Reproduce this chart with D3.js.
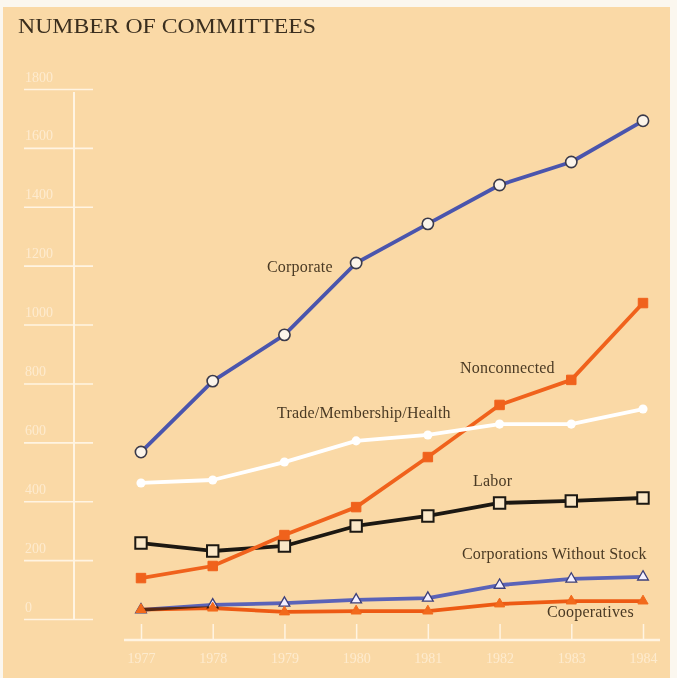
<!DOCTYPE html>
<html>
<head>
<meta charset="utf-8">
<script src="https://cdn.jsdelivr.net/npm/d3@7"></script>
<style>
  html, body { margin: 0; padding: 0; background: #fbf7ef; }
  svg { display: block; }
</style>
</head>
<body>
<svg id="chart" width="677" height="678"></svg>
<script>
// Years on the x axis
const years = [1977, 1978, 1979, 1980, 1981, 1982, 1983, 1984];

// Number of political action committees by type
const corporate      = [567, 808, 965, 1209, 1342, 1474, 1552, 1692];
const nonconnected   = [139, 180, 285, 380, 550, 727, 812, 1073];
const tradeMembHlth  = [462, 472, 533, 605, 625, 662, 662, 713];
const labor          = [258, 231, 248, 316, 350, 394, 401, 411];
const corpsNoStock   = [31, 48, 54, 65, 71, 115, 136, 143];
const cooperatives   = [32, 37, 24, 27, 27, 51, 61, 61];

// Y-axis tick values
const yTicks = [0, 200, 400, 600, 800, 1000, 1200, 1400, 1600, 1800];

const svg = d3.select("#chart");

// Page background
svg.append("rect")
  .attr("x", 3).attr("y", 7).attr("width", 667).attr("height", 671)
  .attr("fill", "#fad9a6");

const x = d3.scalePoint().domain(years).range([141, 643]);
const y = d3.scaleLinear().domain([0, 1800]).range([619, 89]);

// Title
svg.append("text")
  .attr("x", 18).attr("y", 33)
  .attr("font-family", "'Liberation Serif', 'DejaVu Serif', serif")
  .attr("font-size", 20)
  .attr("fill", "#3a2e1e")
  .attr("textLength", 298)
  .attr("lengthAdjust", "spacingAndGlyphs")
  .text("NUMBER OF COMMITTEES");

// Y axis: vertical rule, short horizontal tick rules with labels above them
const axisColor = "#fff4e2";
svg.append("line")
  .attr("x1", 74).attr("x2", 74)
  .attr("y1", y(1800) + 3).attr("y2", y(0))
  .attr("stroke", axisColor).attr("stroke-width", 2);

const yG = svg.append("g").attr("transform", "translate(24,0)");
yG.call(d3.axisRight(y).tickValues(yTicks).tickSize(69).tickFormat(d3.format("d")))
  .call(g => g.select(".domain").remove())
  .call(g => g.selectAll(".tick line").attr("stroke", axisColor).attr("stroke-width", 1.6))
  .call(g => g.selectAll(".tick text")
      .attr("x", 1).attr("dy", -8)
      .attr("text-anchor", "start")
      .attr("font-family", "'Liberation Serif', serif")
      .attr("font-size", 14)
      .attr("fill", "#fff1dc")
      .attr("opacity", 0.75));

// X axis: horizontal rule with upward ticks and year labels below
const xG = svg.append("g").attr("transform", "translate(0,640)");
xG.call(d3.axisTop(x).tickSize(16).tickFormat(d3.format("d")))
  .call(g => g.select(".domain").remove())
  .call(g => g.selectAll(".tick line").attr("stroke", axisColor).attr("stroke-width", 1.5))
  .call(g => g.selectAll(".tick text")
      .attr("y", 23).attr("dy", 0)
      .attr("font-family", "'Liberation Serif', serif")
      .attr("font-size", 14)
      .attr("fill", "#fff1dc")
      .attr("opacity", 0.75));
svg.append("line")
  .attr("x1", 124).attr("x2", 660)
  .attr("y1", 640).attr("y2", 640)
  .attr("stroke", axisColor).attr("stroke-width", 2.5);

const line = d3.line().x((d, i) => x(years[i])).y(d => y(d));
const blue = "#4a55ad", orange = "#f0621c", black = "#1c1812";

function drawSeries(values, color, width, blend) {
  const p = svg.append("path")
    .datum(values)
    .attr("d", line)
    .attr("fill", "none")
    .attr("stroke", color)
    .attr("stroke-width", width)
    .attr("stroke-linejoin", "round");
  if (blend) p.style("mix-blend-mode", blend);
  return svg.append("g");
}

function markers(g, values, shape, size, fill, stroke, sw) {
  g.selectAll("path")
    .data(values)
    .join("path")
    .attr("transform", (d, i) => `translate(${x(years[i])},${y(d)})`)
    .attr("d", d3.symbol().type(shape).size(size))
    .attr("fill", fill)
    .attr("stroke", stroke)
    .attr("stroke-width", sw);
}

// Corporations without stock and cooperatives along the bottom
markers(drawSeries(corpsNoStock, "#5a63b8", 3.8), corpsNoStock, d3.symbolTriangle, 50, "#f4f0ff", "#3c3f7a", 1.3);
markers(drawSeries(cooperatives, "#f26a1c", 3.8, "multiply"), cooperatives, d3.symbolTriangle, 45, "#f26a1c", "#f26a1c", 1);

// Labor
markers(drawSeries(labor, black, 3.8), labor, d3.symbolSquare, 130, "#fbe8c8", black, 2);

// Nonconnected
markers(drawSeries(nonconnected, orange, 3.8), nonconnected, d3.symbolSquare, 90, orange, orange, 1);

// Trade/Membership/Health
markers(drawSeries(tradeMembHlth, "#ffffff", 3.8), tradeMembHlth, d3.symbolCircle, 65, "#ffffff", "none", 0);

// Corporate
markers(drawSeries(corporate, blue, 3.8), corporate, d3.symbolCircle, 100, "#fbf4ea", "#3a3a4a", 1.6);

// Series labels
const labels = [
  { text: "Corporate", x: 267, y: 272 },
  { text: "Nonconnected", x: 460, y: 373 },
  { text: "Trade/Membership/Health", x: 277, y: 418 },
  { text: "Labor", x: 473, y: 486 },
  { text: "Corporations Without Stock", x: 462, y: 559 },
  { text: "Cooperatives", x: 547, y: 617 }
];
svg.append("g").selectAll("text")
  .data(labels)
  .join("text")
  .attr("x", d => d.x).attr("y", d => d.y)
  .attr("font-family", "'Liberation Serif', serif")
  .attr("font-size", 16)
  .attr("letter-spacing", 0.2)
  .attr("fill", "#4a3a24")
  .text(d => d.text);
</script>
</body>
</html>
